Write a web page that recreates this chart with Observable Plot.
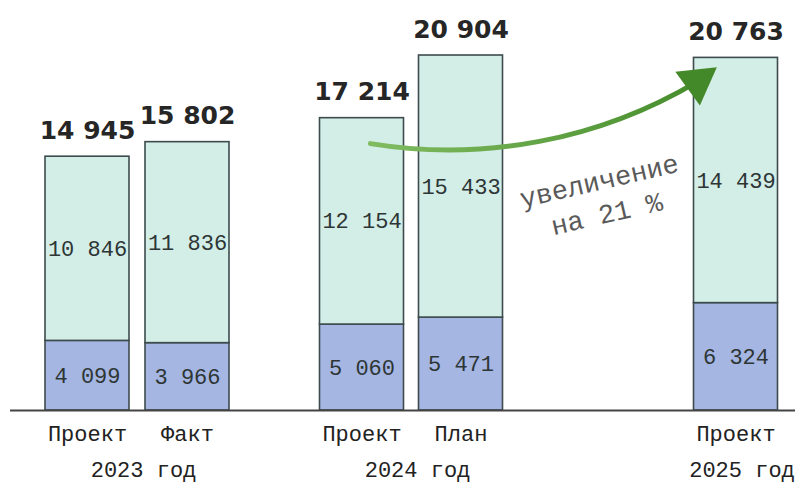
<!DOCTYPE html>
<html>
<head>
<meta charset="utf-8">
<script src="https://cdn.jsdelivr.net/npm/d3@7"></script>
<script src="https://cdn.jsdelivr.net/npm/@observablehq/plot@0.6"></script>
<style>
  html, body { margin: 0; padding: 0; background: #fff; }
</style>
</head>
<body>
<div id="chart"></div>
<script>
// ---- data ----
const years = ["2023 год", "2023 год", "2024 год", "2024 год", "2025 год"];
const categories = ["Проект", "Факт", "Проект", "План", "Проект"];
const lowerValues = [4099, 3966, 5060, 5471, 6324];
const upperValues = [10846, 11836, 12154, 15433, 14439];
const totals = [14945, 15802, 17214, 20904, 20763];
const yearLabels = ["2023 год", "2024 год", "2025 год"];
const annotationLines = ["увеличение", "на 21 %"];

// ---- layout (not data) ----
const slots = [0, 1, 2.745, 3.735, 6.485];
const halfWidth = 0.42;
const blue = "#a5b6e2";
const mint = "#d3ede7";
const edge = "#3d4b4d";
const mono = "'Liberation Mono', 'DejaVu Sans Mono', monospace";

const fmt = d3.formatLocale({decimal: ",", thousands: "\u00a0", grouping: [3], currency: ["", ""]}).format(",d");

const bars = categories.map((c, i) => ({
  category: c, year: years[i], slot: slots[i],
  lower: lowerValues[i], upper: upperValues[i], total: totals[i]
}));
const segments = bars.flatMap(b => [
  {slot: b.slot, part: "lower", y1: 0, y2: b.lower, value: b.lower},
  {slot: b.slot, part: "upper", y1: b.lower, y2: b.lower + b.upper, value: b.upper}
]);
const groups = yearLabels.map(y => ({
  label: y,
  slot: d3.mean(bars.filter(b => b.year === y), b => b.slot) + 0.06
}));

const arrowRow = {
  x1: slots[2] + halfWidth * 0.2, y1: totals[2] * 0.913,
  x2: slots[4] - halfWidth * 0.92, y2: totals[4] * 0.933
};
const annotation = {
  x: (slots[3] + slots[4]) / 2,
  y: lowerValues[3] + upperValues[3] / 2,
  text: annotationLines.join("\n")
};

const defsMark = (index, scales) => {
  const defs = d3.create("svg:defs");
  const g = defs.append("linearGradient")
    .attr("id", "arrowGrad")
    .attr("gradientUnits", "userSpaceOnUse")
    .attr("x1", scales.x(arrowRow.x1)).attr("y1", scales.y(arrowRow.y1))
    .attr("x2", scales.x(arrowRow.x2)).attr("y2", scales.y(arrowRow.y2));
  g.append("stop").attr("offset", "0%").attr("stop-color", "#80bb60");
  g.append("stop").attr("offset", "100%").attr("stop-color", "#468d2c");
  return defs.node();
};

const chart = Plot.plot({
  width: 795,
  height: 486,
  marginTop: 0,
  marginBottom: 76,
  marginLeft: 10,
  marginRight: 0,
  style: {background: "#fff"},
  x: {type: "linear", domain: [-0.77, 7.08], axis: null},
  y: {domain: [0, 24143], axis: null},
  color: {domain: ["lower", "upper"], range: [blue, mint]},
  marks: [
    defsMark,
    Plot.rectY(segments, {
      x1: d => d.slot - halfWidth, x2: d => d.slot + halfWidth,
      y1: "y1", y2: "y2", fill: "part", stroke: edge, strokeWidth: 1.6
    }),
    Plot.ruleY([0], {stroke: "#444", strokeWidth: 2}),
    Plot.text(segments, {
      x: "slot", y: d => (d.y1 + d.y2) / 2, text: d => fmt(d.value),
      fontFamily: mono, fontSize: 22, fill: "#2d3535"
    }),
    Plot.text(bars, {
      x: "slot", y: "total", text: d => fmt(d.total), lineAnchor: "bottom", dy: -18,
      fontFamily: "'DejaVu Sans', sans-serif", fontWeight: "bold", fontSize: 25, fill: "#262626"
    }),
    Plot.text(bars, {
      x: "slot", y: () => 0, text: "category", lineAnchor: "bottom", dy: 30,
      fontFamily: mono, fontSize: 22, fill: "#222"
    }),
    Plot.text(groups, {
      x: "slot", y: () => 0, text: "label", lineAnchor: "bottom", dy: 66,
      fontFamily: mono, fontSize: 22, fill: "#222"
    }),
    Plot.text([annotation], {
      x: "x", y: "y", text: "text", dx: 4, dy: 9, rotate: -13, lineHeight: 1.25,
      fontFamily: mono, fontSize: 27, fill: "#5a5a5a"
    }),
    Plot.arrow([arrowRow], {
      x1: "x1", y1: "y1", x2: "x2", y2: "y2", bend: -20, headLength: 0,
      stroke: "url(#arrowGrad)", strokeWidth: 5, strokeLinecap: "round"
    }),
    Plot.dot([arrowRow], {
      x: "x2", y: "y2", symbol: "triangle", r: 15.5, rotate: 54,
      fill: "#43892a", stroke: "none"
    })
  ]
});
document.getElementById("chart").appendChild(chart);
</script>
</body>
</html>
